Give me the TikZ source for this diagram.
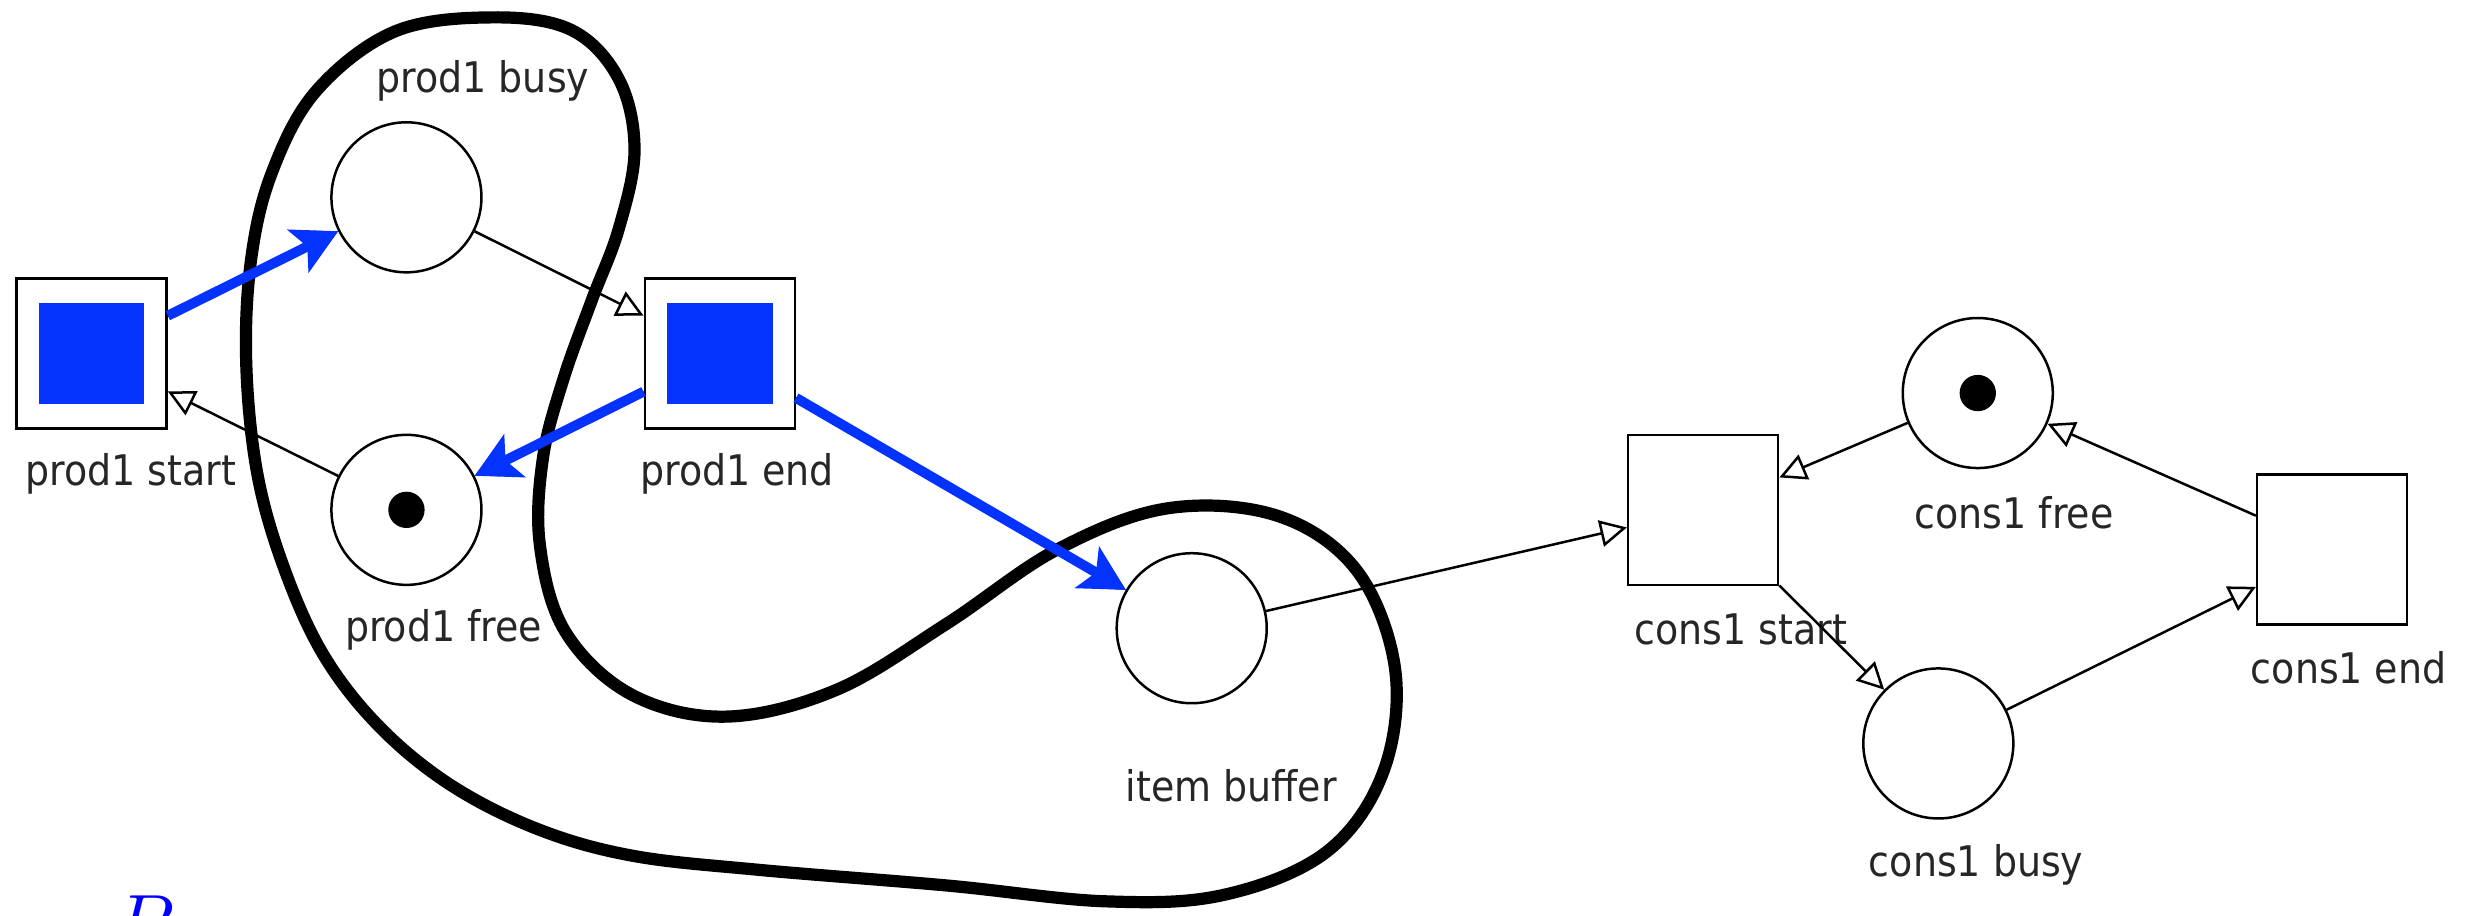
\documentclass[tikz,border=0pt]{standalone}
\usepackage{fontspec}
\setmainfont{DejaVu Sans Condensed}
\usetikzlibrary{arrows.meta}
\definecolor{tokblue}{HTML}{0433FF}
\begin{document}
\begin{tikzpicture}[x=0.01cm,y=-0.01cm,
  place/.style={draw, circle, minimum size=0.95cm, inner sep=0pt, line width=0.45pt},
  trans/.style={draw, rectangle, minimum size=0.95cm, inner sep=0pt, line width=0.45pt},
  lbl/.style={font=\fontsize{7.6}{9}\selectfont, text=black!85, inner sep=0pt},
  pnarc/.style={line width=0.45pt, -{Triangle[open, length=4.8pt, width=4.8pt]}},
  fire/.style={draw=tokblue, line width=1.8pt, -{Stealth[length=8pt, width=8.5pt, inset=1.8pt]}},
  token/.style={fill=black, circle, minimum size=0.23cm, inner sep=0pt},
  enabled/.style={fill=tokblue, minimum width=0.67cm, minimum height=0.64cm, inner sep=0pt},
  region/.style={line width=2.2pt, line join=round},
]
\useasboundingbox (0,0) rectangle (1568,579.7);
\clip (0,0) rectangle (1568,579.7);

% places
\node[place] (pbusy) at (257.5,125) {};
\node[place] (pfree) at (257.5,323) {};
\node[place] (buf) at (755,398) {};
\node[place] (cfree) at (1253,249) {};
\node[place] (cbusy) at (1228,471) {};
% transitions
\node[trans] (pstart) at (58,224) {};
\node[trans] (pend) at (456,224) {};
\node[trans] (cstart) at (1079,323) {};
\node[trans] (cend) at (1477.5,348) {};
% enabled marks and tokens
\node[enabled] (pstartmark) at (pstart) {};
\node[enabled] (pendmark) at (pend) {};
\node[token] (tok1) at (pfree) {};
\node[token] (tok2) at (cfree) {};

% labels
\node[lbl] (lpbusy) at (306,51) {prod1 busy};
\node[lbl] (lpstart) at (83,300) {prod1 start};
\node[lbl] (lpend) at (467,300) {prod1 end};
\node[lbl] (lpfree) at (281,399) {prod1 free};
\node[lbl] (lbuf) at (780,498) {item buffer};
\node[lbl] (lcstart) at (1103,399) {cons1 start};
\node[lbl] (lcfree) at (1276,325) {cons1 free};
\node[lbl] (lcbusy) at (1252,548) {cons1 busy};
\node[lbl] (lcend) at (1488,423) {cons1 end};

% arcs of the net
\draw[pnarc] (pstart) -- (pbusy);
\draw[pnarc] (pbusy) -- (pend);
\draw[pnarc] (pfree) -- (pstart);
\draw[pnarc] (pend) -- (pfree);
\draw[pnarc] (pend) -- (buf);
\draw[pnarc] (buf) -- (cstart);
\draw[pnarc] (cfree) -- (cstart);
\draw[pnarc] (cstart) -- (cbusy);
\draw[pnarc] (cbusy) -- (cend);
\draw[pnarc] (cend) -- (cfree);

% region curve
\draw[region] plot[smooth cycle, tension=0.6] coordinates {
(312,11) (362,19) (392,50) (402,95) (392,145) (375,190) (357,240)
(344,290) (342,345) (358,400) (400,440) (460,454) (530,437) (600,395) (670,348)
(740,322) (810,327) (860,362) (884,425) (876,490) (840,540) (775,567) (700,571)
(600,561) (480,551) (400,542) (340,525) (285,497) (240,460) (205,415) (180,360)
(163,300) (156,230) (159,165) (172,110) (200,58) (250,20)};

% firing arcs
\draw[fire] (pstart) -- (pbusy);
\draw[fire] (pend) -- (pfree);
\draw[fire] (pend) -- (buf);

% P
\node[anchor=base west, inner sep=0pt, text=blue, font=\fontsize{14}{16}\selectfont] (plabel) at (71,602) {$P$};
\end{tikzpicture}
\end{document}
